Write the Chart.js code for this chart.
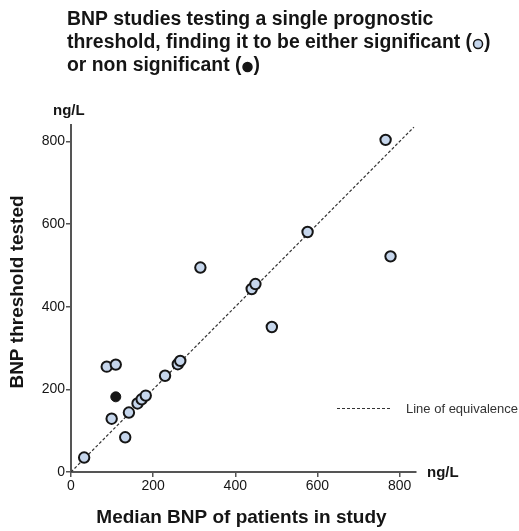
<!DOCTYPE html>
<html>
<head>
<meta charset="utf-8">
<script src="https://cdn.jsdelivr.net/npm/chart.js@4/dist/chart.umd.min.js"></script>
<style>
  html, body { margin: 0; padding: 0; background: #fff; }
  #wrap { width: 519px; height: 531px; }
</style>
</head>
<body>
<div id="wrap"><canvas id="bnp-chart"></canvas></div>
<script>
// Median BNP of patients (x) against the threshold tested (y), ng/L
const significantMedian = [32, 87, 109, 99, 141, 132, 162, 172, 182, 229, 260, 266, 315, 440, 449, 489, 576, 766, 778];
const significantThreshold = [35, 255, 260, 129, 144, 84, 166, 176, 185, 233, 261, 269, 495, 443, 455, 351, 581, 804, 522];
const nonSignificantMedian = [109];
const nonSignificantThreshold = [182];
const equivalenceRange = [0, 835];
const tickValues = [0, 200, 400, 600, 800];
const axisMax = 840;

const titleLines = [
  "BNP studies testing a single prognostic",
  "threshold, finding it to be either significant (",
  "or non significant ("
];

const FONT = "'Liberation Sans', Arial, sans-serif";
const FILL_SIG = "#c6d6ec";
const INK = "#151515";

function toPoints(xs, ys) {
  return xs.map((x, i) => ({ x: x, y: ys[i] }));
}

// Titles, units, the little legend and the marker glyphs in the heading
const annotations = {
  id: "annotations",
  afterDraw(chart) {
    const ctx = chart.ctx;
    const area = chart.chartArea;
    ctx.save();
    ctx.fillStyle = INK;
    ctx.textBaseline = "middle";
    ctx.textAlign = "left";

    // heading
    ctx.font = "bold 19.4px " + FONT;
    const lineY = [20, 43, 66];
    titleLines.forEach((t, i) => ctx.fillText(t, 67, lineY[i]));
    const marks = [
      { line: 1, fill: FILL_SIG },
      { line: 2, fill: INK }
    ];
    marks.forEach(m => {
      const w = ctx.measureText(titleLines[m.line]).width;
      const cx = 67 + w + 6;
      ctx.beginPath();
      ctx.arc(cx, lineY[m.line] + 1, 4.5, 0, Math.PI * 2);
      ctx.fillStyle = m.fill;
      ctx.fill();
      ctx.lineWidth = 1.5;
      ctx.strokeStyle = INK;
      ctx.stroke();
      ctx.fillStyle = INK;
      ctx.fillText(")", cx + 6, lineY[m.line]);
    });

    // units
    ctx.font = "bold 15px " + FONT;
    ctx.fillText("ng/L", 53, 111);
    ctx.fillText("ng/L", 427, 473);

    // axis titles
    ctx.font = "bold 19px " + FONT;
    ctx.textAlign = "center";
    ctx.fillText("Median BNP of patients in study", (area.left + area.right) / 2 - 2, 518);
    ctx.save();
    ctx.translate(18, 292);
    ctx.rotate(-Math.PI / 2);
    ctx.fillText("BNP threshold tested", 0, 0);
    ctx.restore();

    // legend for the dashed line
    ctx.strokeStyle = "#333";
    ctx.lineWidth = 1;
    ctx.setLineDash([3, 2]);
    ctx.beginPath();
    ctx.moveTo(337, 408.5);
    ctx.lineTo(392, 408.5);
    ctx.stroke();
    ctx.setLineDash([]);
    ctx.font = "13px " + FONT;
    ctx.textAlign = "left";
    ctx.fillStyle = "#333";
    ctx.fillText("Line of equivalence", 406, 409);
    ctx.restore();
  }
};

const ctx = document.getElementById("bnp-chart").getContext("2d");

const bnpChart = new Chart(ctx, {
  type: "scatter",
  data: {
    datasets: [
      {
        label: "Line of equivalence",
        type: "line",
        data: toPoints(equivalenceRange, equivalenceRange),
        borderColor: "#333",
        borderWidth: 1.2,
        borderDash: [3, 2],
        pointRadius: 0,
        fill: false,
        order: 3
      },
      {
        label: "Significant",
        data: toPoints(significantMedian, significantThreshold),
        backgroundColor: FILL_SIG,
        borderColor: INK,
        borderWidth: 2,
        pointRadius: 5.2,
        order: 1
      },
      {
        label: "Non significant",
        data: toPoints(nonSignificantMedian, nonSignificantThreshold),
        backgroundColor: INK,
        borderColor: INK,
        borderWidth: 1,
        pointRadius: 5,
        order: 2
      }
    ]
  },
  options: {
    responsive: true,
    maintainAspectRatio: false,
    animation: false,
    layout: { padding: { left: 0, top: 125, right: 103, bottom: 0 } },
    plugins: {
      legend: { display: false },
      tooltip: { enabled: false }
    },
    scales: {
      x: {
        type: "linear",
        min: 0,
        max: axisMax,
        afterBuildTicks(scale) { scale.ticks = tickValues.map(v => ({ value: v })); },
        afterFit(scale) { scale.height = 59; },
        border: { color: "#555", width: 2 },
        grid: { drawOnChartArea: false, tickLength: 5, color: "#555", lineWidth: 1.5 },
        ticks: { color: INK, padding: 1, font: { family: FONT, size: 14 } }
      },
      y: {
        type: "linear",
        min: 0,
        max: axisMax,
        afterBuildTicks(scale) { scale.ticks = tickValues.map(v => ({ value: v })); },
        afterFit(scale) { scale.width = 71; },
        border: { color: "#555", width: 2 },
        grid: { drawOnChartArea: false, tickLength: 5, color: "#555", lineWidth: 1.5 },
        ticks: { color: INK, padding: 1, font: { family: FONT, size: 14 } }
      }
    }
  },
  plugins: [annotations]
});
</script>
</body>
</html>
